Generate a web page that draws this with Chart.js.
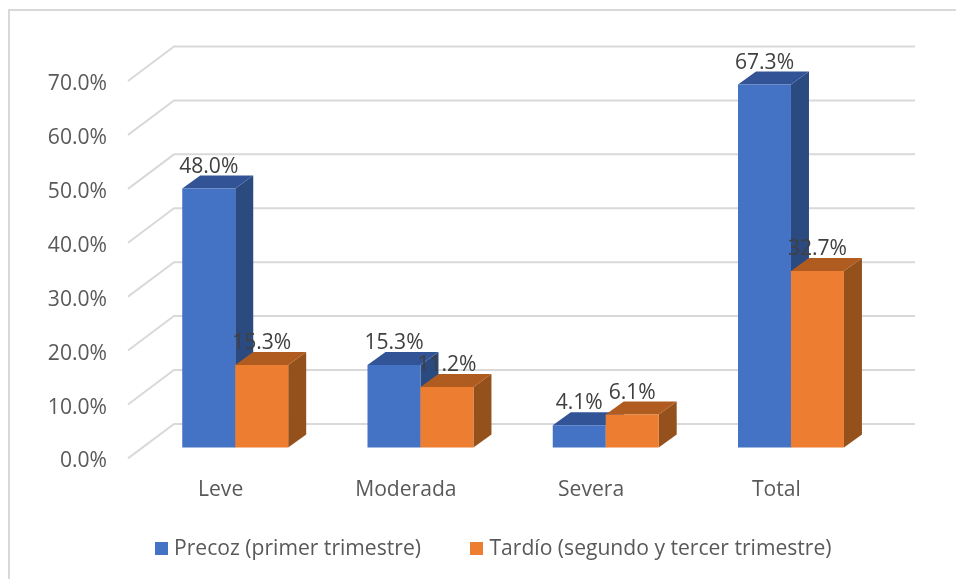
<!DOCTYPE html>
<html><head><meta charset="utf-8">
<style>html,body{margin:0;padding:0;background:#fff}#wrap{position:relative;width:956px;height:579px;overflow:hidden}</style>
<script src="https://cdn.jsdelivr.net/npm/chart.js@4"></script>
</head><body><div id="wrap"><canvas id="c" width="956" height="579"></canvas></div>
<script>
const categories = ['Leve','Moderada','Severa','Total'];
const precoz = [48.0,15.3,4.1,67.3];
const tardio = [15.3,11.2,6.1,32.7];
const seriesNames = ['Precoz (primer trimestre)','Tardío (segundo y tercer trimestre)'];
const yTicks = [0,10,20,30,40,50,60,70];
const FONT = '"Open Sans"';
const FS = 21.1;
const palette = [
 {front:'#4472C4',side:'#2B4A80',top:'#325497'},
 {front:'#ED7D31',side:'#95511C',top:'#B05C20'}
];
const plane = {dx:14.6,dy:-11}, depth = {dx:18,dy:-13};
const back = {dx:46,dy:-34.5}, gridRight = 915;

function swatch(color){
 const cv = document.createElement('canvas'); cv.width=13; cv.height=13;
 const g = cv.getContext('2d'); g.fillStyle=color; g.fillRect(0,0,13,13);
 return cv;
}
const swatches = palette.map(p=>swatch(p.front));

const threeD = {
 id:'threeD',
 afterLayout(chart){
  const lg = chart.legend;
  lg.left = 35; lg.right = 956; lg.top = 484;
  chart.scales.x.bottom = 530;
 },
 beforeDraw(chart){
  const c = chart.ctx; c.save(); c.strokeStyle='#D9D9D9'; c.lineWidth=2;
  c.beginPath(); c.moveTo(9,579); c.lineTo(9,10); c.lineTo(956,10); c.stroke(); c.restore();
 },
 beforeDatasetsDraw(chart){
  const c = chart.ctx, y = chart.scales.y, x = chart.scales.x;
  c.save(); c.strokeStyle='#D9D9D9'; c.lineWidth=2;
  yTicks.forEach(t=>{
   const p = y.getPixelForValue(t);
   c.beginPath(); c.moveTo(x.left,p); c.lineTo(x.left+back.dx,p+back.dy); c.lineTo(gridRight,p+back.dy); c.stroke();
  });
  c.restore();
  c.save(); c.translate(plane.dx,plane.dy);
  chart.data.datasets.forEach((d,i)=>{
   const meta = chart.getDatasetMeta(i), col = palette[i];
   meta.data.forEach(el=>{
    const l=el.x-el.width/2, r=el.x+el.width/2, t=el.y, b=el.base;
    c.fillStyle=col.side; c.beginPath();
    c.moveTo(r,t); c.lineTo(r+depth.dx,t+depth.dy); c.lineTo(r+depth.dx,b+depth.dy); c.lineTo(r,b); c.closePath(); c.fill();
    c.fillStyle=col.top; c.beginPath();
    c.moveTo(l,t); c.lineTo(l+depth.dx,t+depth.dy); c.lineTo(r+depth.dx,t+depth.dy); c.lineTo(r,t); c.closePath(); c.fill();
    el.draw(c);
   });
  });
  c.restore();
 },
 beforeDatasetDraw(){ return false; },
 afterDatasetsDraw(chart){
  const c = chart.ctx; c.save();
  c.font = FS+'px '+FONT; c.fillStyle='#404040'; c.textAlign='center'; c.textBaseline='alphabetic';
  chart.data.datasets.forEach((d,i)=>{
   chart.getDatasetMeta(i).data.forEach((el,j)=>{
    c.fillText(d.data[j].toFixed(1)+'%', el.x+plane.dx, el.y+plane.dy-16);
   });
  });
  c.restore();
 }
};

new Chart(document.getElementById('c'),{
 type:'bar',
 data:{labels:categories,datasets:[
  {label:seriesNames[0],data:precoz,backgroundColor:palette[0].front},
  {label:seriesNames[1],data:tardio,backgroundColor:palette[1].front}
 ]},
 options:{
  responsive:false,animation:false,
  layout:{padding:{left:0,right:87,top:81,bottom:0}},
  datasets:{bar:{categoryPercentage:0.572,barPercentage:1}},
  plugins:{
   tooltip:{enabled:false},
   legend:{position:'bottom',labels:{usePointStyle:true,pointStyleWidth:4,boxHeight:13,padding:54,color:'#595959',font:{family:FONT,size:FS},
     generateLabels(chart){
      return chart.data.datasets.map((d,i)=>({text:d.label,datasetIndex:i,fontColor:'#595959',pointStyle:swatches[i],fillStyle:palette[i].front,strokeStyle:palette[i].front,lineWidth:0,hidden:false}));
     }}}
  },
  scales:{
   x:{grid:{display:false},border:{display:false},
      ticks:{color:'#595959',font:{family:FONT,size:FS},padding:11,maxRotation:0},
      afterFit(s){s.height=35.5;}},
   y:{min:0,max:70,grid:{display:false,drawTicks:false},border:{display:false},
      ticks:{stepSize:10,color:'#595959',font:{family:FONT,size:FS},padding:21,labelOffset:3,callback:v=>v.toFixed(1)+'%'},
      afterFit(s){s.width=128;}}
  }
 },
 plugins:[threeD]
});
</script></body></html>
